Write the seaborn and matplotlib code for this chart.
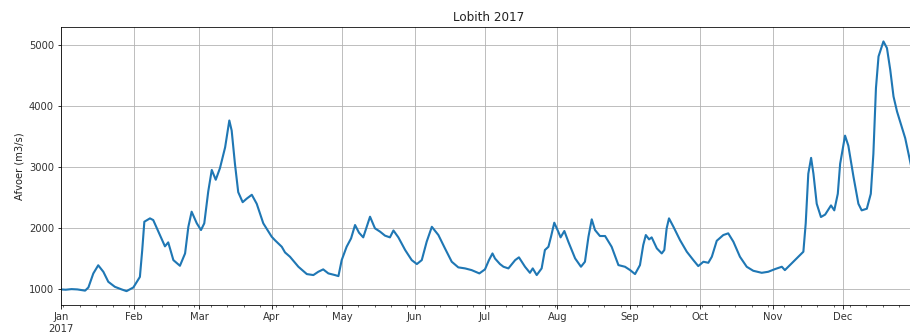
import numpy as np
import pandas as pd
import matplotlib
matplotlib.use("Agg")
import matplotlib.pyplot as plt
import matplotlib.dates as mdates
import seaborn as sns

# Rhine discharge at Lobith, 2017: days since 1 Jan and discharge in m3/s
days = [0, 2, 4.5, 7, 10.3, 11.7, 13.8, 15.9, 18.1, 20.2, 23, 25.9, 28, 30.9,
        33.7, 34.7, 35.6, 38, 39.4, 41.6, 44.4, 45.8, 48, 50.8, 53, 54.4, 55.8,
        58, 59.8, 61.2, 62.9, 64.4, 66.1, 67.9, 70.1, 71.9, 72.9, 74.3, 75.7,
        77.6, 79.3, 81.5, 83.6, 86.4, 90, 91.4, 94.3, 95.7, 97.8, 101.4, 105,
        107.8, 109.9, 112, 114.2, 117, 118.5, 119.9, 122, 123.9, 125.6, 127.3,
        129.1, 132, 134.1, 136.3, 138.4, 140.5, 142, 144.1, 147, 149.8, 152,
        154.1, 156.2, 158.4, 161.2, 164, 166.9, 169.7, 172.6, 175.4, 178.7,
        181.1, 182.8, 184.3, 185.4, 187.5, 189, 191.1, 194, 195.6, 198.2, 200.3,
        201.5, 203.2, 205.3, 206.7, 208.2, 209.3, 210.7, 212.4, 213.4, 215,
        216.7, 219.6, 222.1, 223.8, 225.3, 226.7, 228.1, 230.2, 232.4, 235.2,
        238.1, 240.9, 243.1, 245.2, 247.3, 248.7, 249.8, 251.2, 252.3, 254.5,
        256.6, 257.7, 258.7, 259.7, 261.6, 264.4, 267.3, 270.1, 272.2, 274.4,
        276.5, 278, 280.1, 282.9, 285, 287.2, 290, 292.9, 295.7, 299.3, 302.1,
        305, 307.9, 309.2, 312.1, 315, 317.1, 318.1, 319.2, 320.4, 321.4, 322.8,
        324.6, 326.4, 328.9, 330.3, 331.8, 332.8, 334.9, 336.3, 338.5, 340.6,
        342, 344.2, 345.9, 347, 348.1, 349.2, 351.3, 352.8, 354.2, 355.6, 357.1,
        359.1, 360.6, 362.7, 363.5]
afvoer = [995, 990, 1000, 995, 975, 1027, 1256, 1390, 1283, 1120, 1038, 995,
          967, 1027, 1200, 1640, 2103, 2158, 2130, 1940, 1700, 1765, 1475, 1382,
          1584, 2020, 2267, 2077, 1967, 2077, 2600, 2950, 2790, 2980, 3320, 3760,
          3595, 3050, 2587, 2423, 2480, 2544, 2397, 2077, 1857, 1800, 1693, 1600,
          1530, 1366, 1246, 1230, 1284, 1323, 1257, 1230, 1213, 1475, 1693, 1830,
          2049, 1923, 1847, 2185, 1995, 1940, 1875, 1847, 1960, 1847, 1640, 1475,
          1410, 1475, 1776, 2020, 1885, 1667, 1448, 1356, 1339, 1311, 1257, 1323,
          1475, 1584, 1500, 1410, 1366, 1339, 1475, 1520, 1366, 1267, 1339, 1230,
          1339, 1640, 1693, 1857, 2087, 1940, 1847, 1951, 1776, 1503, 1366, 1448,
          1857, 2142, 1967, 1869, 1869, 1693, 1393, 1366, 1311, 1246, 1393, 1721,
          1885, 1814, 1847, 1667, 1584, 1640, 1995, 2158, 2020, 1803, 1612, 1475,
          1377, 1448, 1431, 1530, 1791, 1885, 1913, 1776, 1530, 1366, 1300, 1267,
          1284, 1328, 1366, 1311, 1421, 1530, 1612, 2077, 2888, 3148, 2888, 2397,
          2180, 2220, 2370, 2289, 2560, 3050, 3512, 3348, 2840, 2397, 2289, 2316,
          2560, 3213, 4290, 4808, 5054, 4945, 4590, 4153, 3907, 3660, 3470, 3087,
          2950]

y_ticks = [1000, 2000, 3000, 4000, 5000]
title = "Lobith 2017"
y_label = "Afvoer (m3/s)"

df = pd.DataFrame({
    "datum": pd.Timestamp("2017-01-01") + pd.to_timedelta(days, unit="D"),
    "afvoer": afvoer,
})

dpi = 72
fig = plt.figure(figsize=(910 / dpi, 336 / dpi), dpi=dpi)
ax = fig.add_axes([61 / 910, 31 / 336, (915.5 - 61) / 910, 278 / 336])

sns.lineplot(data=df, x="datum", y="afvoer", ax=ax, color="#1f77b4",
             linewidth=2.1)

ax.set_xlim(pd.Timestamp("2017-01-01"), pd.Timestamp("2017-12-31 23:50"))
ax.set_ylim(740, 5290)
ax.set_yticks(y_ticks)

ax.xaxis.set_major_locator(mdates.MonthLocator())
ax.xaxis.set_minor_locator(mdates.WeekdayLocator(byweekday=mdates.MO))


def month_fmt(x, pos=None):
    d = mdates.num2date(x)
    if d.month == 1:
        return d.strftime("%b\n%Y")
    return d.strftime("%b")


ax.xaxis.set_major_formatter(plt.FuncFormatter(month_fmt))
ax.tick_params(labelcolor="#333333")

ax.grid(True, which="major", color="#b0b0b0", linewidth=0.8)
ax.set_axisbelow(True)
ax.set_xlabel("")
ax.set_ylabel(y_label, color="#222222")
ax.set_title(title, color="#222222")

fig.savefig("out.png", dpi=dpi)
